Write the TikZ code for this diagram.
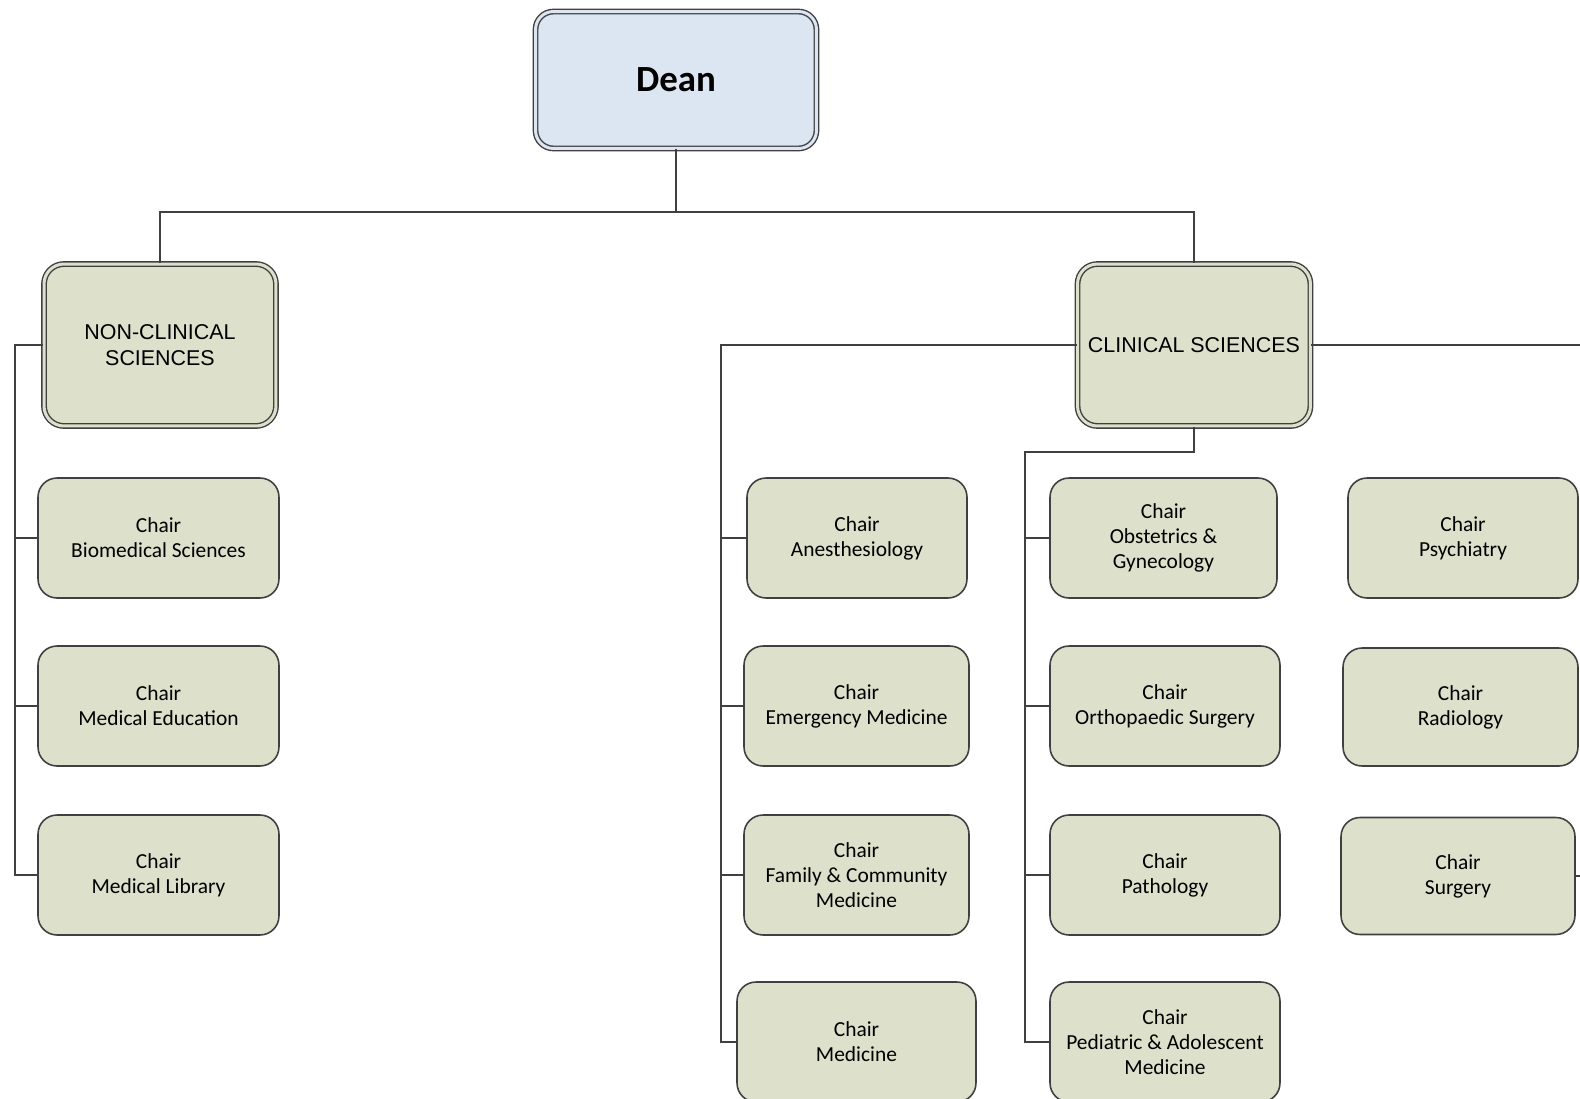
\documentclass[tikz,border=0pt]{standalone}
\usepackage{fontspec}
\setmainfont{Carlito}
\newfontfamily\headfont{Liberation Sans}
\definecolor{boxfill}{RGB}{221,224,203}
\definecolor{deanfill}{RGB}{220,230,242}
\definecolor{edgegray}{RGB}{64,64,64}

\begin{document}
\begin{tikzpicture}[x=0.02cm, y=-0.02cm,
    chairbox/.style={draw=edgegray, line width=0.9pt, fill=boxfill, rounded corners=0.38cm,
        minimum width=4.8cm, minimum height=2.4cm, inner sep=0pt, align=center,
        font=\fontsize{12.2}{14.2}\selectfont},
    headbox/.style={draw=edgegray, line width=0.8pt, double=boxfill, double distance=1.7pt,
        fill=boxfill, rounded corners=0.4cm, minimum width=4.64cm, minimum height=3.24cm,
        inner sep=0pt, align=center, font=\headfont\fontsize{12.2}{14.8}\selectfont},
    conn/.style={draw=edgegray, line width=1.3pt}]

    % Page frame (the chart runs on past the right and bottom edges)
    \useasboundingbox (0,0) rectangle (1580,1099);
    \clip (0,0) rectangle (1580,1099);

    % Top of the tree
    \node[headbox, fill=deanfill, double=deanfill, minimum width=5.62cm, minimum height=2.74cm,
        rounded corners=0.36cm, font=\fontsize{21}{25}\selectfont\bfseries] (dean) at (676,80) {Dean};

    \node[headbox] (noncl) at (160,345) {NON-CLINICAL\\SCIENCES};
    \node[headbox, minimum width=4.66cm] (clin) at (1194,345) {CLINICAL SCIENCES};

    % Non-clinical chairs
    \node[chairbox, minimum width=4.82cm] (bio) at (158.5,538) {Chair\\Biomedical Sciences};
    \node[chairbox, minimum width=4.82cm] (edu) at (158.5,706) {Chair\\Medical Education};
    \node[chairbox, minimum width=4.82cm] (lib) at (158.5,875) {Chair\\Medical Library};

    % Clinical chairs, first column
    \node[chairbox, minimum width=4.4cm] (anes) at (857,538) {Chair\\Anesthesiology};
    \node[chairbox, minimum width=4.5cm] (emerg) at (856.5,706) {Chair\\Emergency Medicine};
    \node[chairbox, minimum width=4.5cm] (family) at (856.5,875) {Chair\\Family \& Community\\Medicine};
    \node[chairbox, minimum width=4.78cm] (med) at (856.5,1042) {Chair\\Medicine};

    % Clinical chairs, second column
    \node[chairbox, minimum width=4.54cm] (obst) at (1163.5,538) {Chair\\Obstetrics \&\\Gynecology};
    \node[chairbox, minimum width=4.6cm] (ortho) at (1165,706) {Chair\\Orthopaedic Surgery};
    \node[chairbox, minimum width=4.6cm] (path) at (1165,875) {Chair\\Pathology};
    \node[chairbox, minimum width=4.6cm] (ped) at (1165,1042) {Chair\\Pediatric \& Adolescent\\Medicine};

    % Clinical chairs, third column
    \node[chairbox, minimum width=4.6cm] (psych) at (1463,538) {Chair\\Psychiatry};
    \node[chairbox, minimum width=4.7cm, minimum height=2.36cm] (radio) at (1460.5,707) {Chair\\Radiology};
    \node[chairbox, minimum width=4.68cm, minimum height=2.34cm] (surg) at (1458,876) {Chair\\Surgery};

    % Dean to the two sections
    \coordinate (split) at (676,212);
    \draw[conn] (dean.south) -- (split);
    \draw[conn] (noncl.north) |- (split) -| (clin.north);

    % Non-clinical spine
    \coordinate (ncspine) at (15,345);
    \draw[conn] (noncl.west) -- (ncspine) |- (lib.west);
    \foreach \n in {bio,edu}
        \draw[conn] (\n.west) -- (\n.west -| ncspine);

    % Clinical spine on the left
    \coordinate (clspine) at (721,345);
    \draw[conn] (clin.west) -- (clspine) |- (med.west);
    \foreach \n in {anes,emerg,family}
        \draw[conn] (\n.west) -- (\n.west -| clspine);

    % Clinical spine below
    \coordinate (clspineb) at (1025,452);
    \draw[conn] (clin.south) |- (clspineb) |- (ped.west);
    \foreach \n in {obst,ortho,path}
        \draw[conn] (\n.west) -- (\n.west -| clspineb);

    % Lines leaving the page on the right
    \coordinate (clright) at (1585,345);
    \coordinate (surgright) at (1585,876);
    \draw[conn] (clin.east) -- (clright);
    \draw[conn] (surg.east) -- (surgright);
\end{tikzpicture}
\end{document}
